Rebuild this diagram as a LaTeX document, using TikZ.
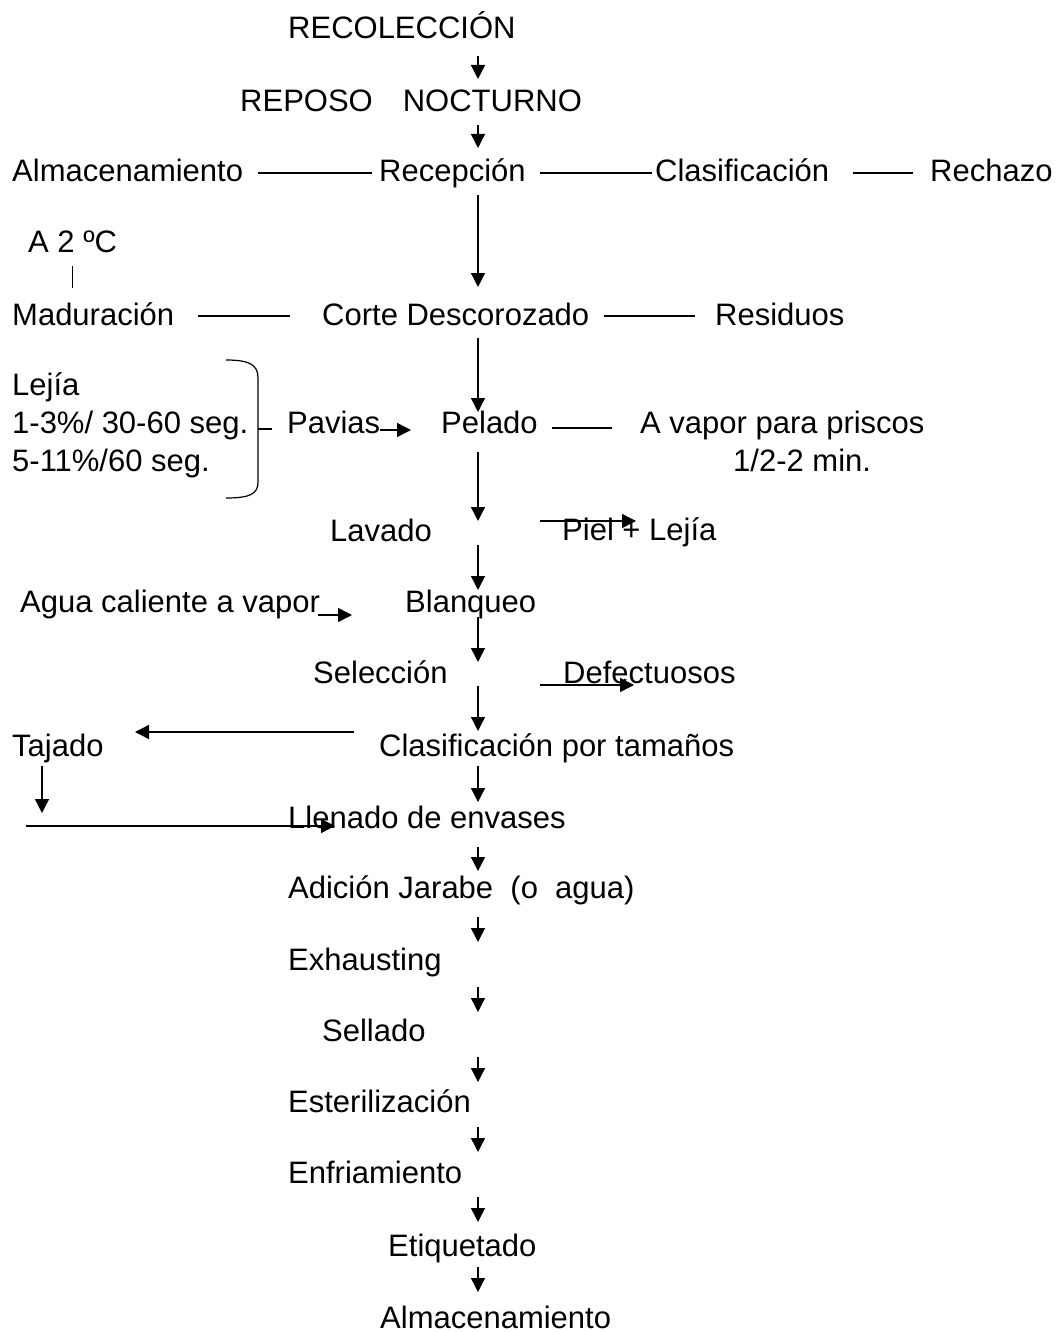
\documentclass[tikz,border=0pt]{standalone}
\usepackage{fontspec}
\setmainfont{Liberation Sans}
\usetikzlibrary{arrows.meta}
\begin{document}
\begin{tikzpicture}[x=1pt,y=-1pt,
  txt/.style={inner sep=0pt, anchor=base west, font=\fontsize{31}{34}\selectfont},
  ln/.style={line width=1.4pt},
  arr/.style={line width=1.4pt, -{Triangle[length=14pt,width=14pt]}}]
\useasboundingbox[fill=white] (0,0) rectangle (1055,1332);
% ---- texts ----
\node[txt] (recol) at (288,39) {RECOLECCIÓN};
\node[txt] (repo) at (240,112) {REPOSO\hspace{30pt}NOCTURNO};
\node[txt] (alm1) at (12,182) {Almacenamiento};
\node[txt] (recep) at (379,182) {Recepción};
\node[txt] (clas) at (655,182) {Clasificación};
\node[txt] (rech) at (930,182) {Rechazo};
\node[txt] (a2c) at (28,253) {A 2 ºC};
\node[txt] (mad) at (12,325) {Maduración};
\node[txt] (corte) at (322,325) {Corte Descorozado};
\node[txt] (resid) at (715,325) {Residuos};
\node[txt] (lej1) at (12,395) {Lejía};
\node[txt] (lej2) at (12,433) {1-3\%/ 30-60 seg.};
\node[txt] (lej3) at (12,471) {5-11\%/60 seg.};
\node[txt] (pav) at (287,433) {Pavias};
\node[txt] (pel) at (441,433) {Pelado};
\node[txt] (vap1) at (640,433) {A vapor para priscos};
\node[txt] (vap2) at (733,471) {1/2-2 min.};
\node[txt] (lav) at (330,541) {Lavado};
\node[txt] (piel) at (562,540) {Piel + Lejía};
\node[txt] (agua) at (20,612) {Agua caliente a vapor};
\node[txt] (blan) at (405,612) {Blanqueo};
\node[txt] (sel) at (313,683) {Selección};
\node[txt] (def) at (563,683) {Defectuosos};
\node[txt] (taj) at (12,756) {Tajado};
\node[txt] (clt) at (379,756) {Clasificación por tamaños};
\node[txt] (llen) at (288,828) {Llenado de envases};
\node[txt] (adic) at (288,898) {Adición Jarabe\ \ (o\ \ agua)};
\node[txt] (exh) at (288,970) {Exhausting};
\node[txt] (sell) at (322,1041) {Sellado};
\node[txt] (est) at (288,1112) {Esterilización};
\node[txt] (enf) at (288,1183) {Enfriamiento};
\node[txt] (eti) at (388,1256) {Etiquetado};
\node[txt] (alm2) at (380,1328) {Almacenamiento};
% ---- connector end points ----
\coordinate (recol-o) at (478,56);   \coordinate (repo-i) at (478,79);
\coordinate (repo-o) at (478,125);   \coordinate (recep-i) at (478,148);
\coordinate (recep-o) at (478,195);  \coordinate (corte-i) at (478,287);
\coordinate (corte-o) at (478,338);  \coordinate (pel-i) at (478,412);
\coordinate (pel-o) at (478,452);    \coordinate (lav-i) at (478,521);
\coordinate (lav-o) at (478,545);    \coordinate (blan-i) at (478,590);
\coordinate (blan-o) at (478,617);   \coordinate (sel-i) at (478,662);
\coordinate (sel-o) at (478,686);    \coordinate (clt-i) at (478,731);
\coordinate (clt-o) at (478,766);    \coordinate (llen-i) at (478,802);
\coordinate (llen-o) at (478,847);   \coordinate (adic-i) at (478,871);
\coordinate (adic-o) at (478,917);   \coordinate (exh-i) at (478,942);
\coordinate (exh-o) at (478,987);    \coordinate (sell-i) at (478,1012);
\coordinate (sell-o) at (478,1057);  \coordinate (est-i) at (478,1082);
\coordinate (est-o) at (478,1127);   \coordinate (enf-i) at (478,1152);
\coordinate (enf-o) at (478,1197);   \coordinate (eti-i) at (478,1222);
\coordinate (eti-o) at (478,1267);   \coordinate (alm2-i) at (478,1292);
% side links
\coordinate (alm1-r) at (258,173);  \coordinate (recep-l) at (372,173);
\coordinate (recep-r) at (540,173); \coordinate (clas-l) at (652,173);
\coordinate (clas-r) at (853,173);  \coordinate (rech-l) at (913,173);
\coordinate (a2c-b) at (72,266);    \coordinate (mad-t) at (72,288);
\coordinate (mad-r) at (198,316);   \coordinate (corte-l) at (290,316);
\coordinate (corte-r) at (604,316); \coordinate (resid-l) at (695,316);
\coordinate (pav-r) at (380,430);   \coordinate (pel-l) at (411,430);
\coordinate (pel-r) at (552,428);   \coordinate (vap1-l) at (612,428);
\coordinate (piel-s) at (540,521);  \coordinate (piel-e) at (636,521);
\coordinate (agua-r) at (318,615);  \coordinate (blan-l) at (352,615);
\coordinate (def-s) at (540,685);   \coordinate (def-e) at (634,685);
\coordinate (clt-l) at (354,732);   \coordinate (taj-r) at (135,732);
\coordinate (taj-b) at (42,766);    \coordinate (taj-d) at (42,813);
\coordinate (llen-s) at (26,826);   \coordinate (llen-l) at (335,826);
\coordinate (brace-t) at (226,360); \coordinate (brace-b) at (226,498);
\coordinate (brace-m) at (258,429); \coordinate (pav-l) at (272,429);
% ---- main flow ----
\draw[arr] (recol-o) -- (repo-i);
\draw[arr] (repo-o) -- (recep-i);
\draw[arr] (recep-o) -- (corte-i);
\draw[arr] (corte-o) -- (pel-i);
\draw[arr] (pel-o) -- (lav-i);
\draw[arr] (lav-o) -- (blan-i);
\draw[arr] (blan-o) -- (sel-i);
\draw[arr] (sel-o) -- (clt-i);
\draw[arr] (clt-o) -- (llen-i);
\draw[arr] (llen-o) -- (adic-i);
\draw[arr] (adic-o) -- (exh-i);
\draw[arr] (exh-o) -- (sell-i);
\draw[arr] (sell-o) -- (est-i);
\draw[arr] (est-o) -- (enf-i);
\draw[arr] (enf-o) -- (eti-i);
\draw[arr] (eti-o) -- (alm2-i);
% ---- side links ----
\draw[ln] (alm1-r) -- (recep-l);
\draw[ln] (recep-r) -- (clas-l);
\draw[ln] (clas-r) -- (rech-l);
\draw[line width=1pt] (a2c-b) -- (mad-t);
\draw[ln] (mad-r) -- (corte-l);
\draw[ln] (corte-r) -- (resid-l);
\draw[arr] (pav-r) -- (pel-l);
\draw[ln] (pel-r) -- (vap1-l);
\draw[arr] (piel-s) -- (piel-e);
\draw[arr] (agua-r) -- (blan-l);
\draw[arr] (def-s) -- (def-e);
\draw[arr] (clt-l) -- (taj-r);
\draw[arr] (taj-b) -- (taj-d);
\draw[arr] (llen-s) -- (llen-l);
% brace
\draw[line width=1.2pt] (brace-t) .. controls (250,360) and (258,365) .. (258,378)
   -- (258,482) .. controls (258,494) and (250,498) .. (brace-b);
\draw[line width=1.2pt] (brace-m) -- (pav-l);
\end{tikzpicture}
\end{document}
